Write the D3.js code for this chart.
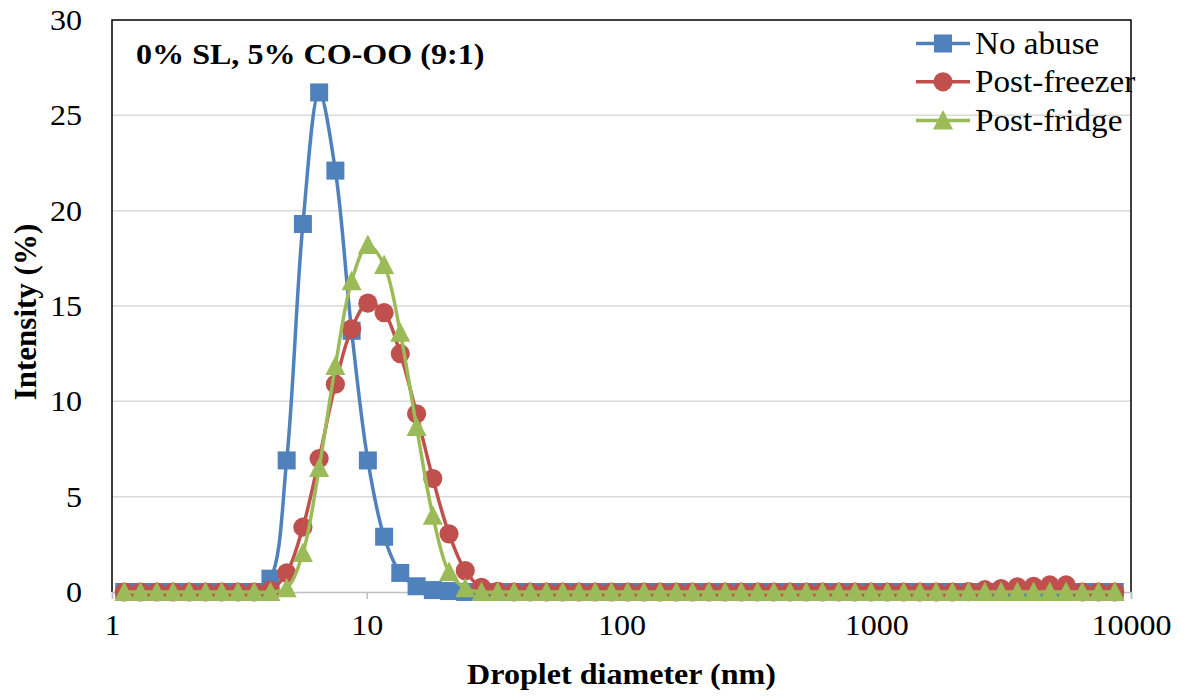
<!DOCTYPE html>
<html>
<head>
<meta charset="utf-8">
<script src="https://cdn.jsdelivr.net/npm/d3@7"></script>
<style>
  html, body { margin: 0; padding: 0; background: #fff; }
  svg { display: block; font-family: "Liberation Serif", "Times New Roman", serif; }
</style>
</head>
<body>
<svg id="chart" width="1186" height="696"></svg>
<script>
// droplet diameter bins (nm)
const diameters = [1.117, 1.294, 1.499, 1.736, 2.010, 2.328, 2.696, 3.122, 3.615, 4.187,
  4.849, 5.615, 6.503, 7.531, 8.721, 10.10, 11.70, 13.54, 15.69, 18.17,
  21.04, 24.36, 28.21, 32.67, 37.84, 43.82, 50.75, 58.77, 68.06, 78.82,
  91.28, 105.7, 122.4, 141.8, 164.2, 190.1, 220.2, 255.0, 295.3, 342.0,
  396.1, 458.7, 531.2, 615.1, 712.4, 825.0, 955.4, 1106, 1281, 1484,
  1718, 1990, 2305, 2669, 3091, 3580, 4145, 4801, 5560, 6439,
  7456, 8635];

const noAbuse = [0, 0, 0, 0, 0, 0, 0, 0, 0, 0.7,
  6.9, 19.3, 26.2, 22.1, 13.7, 6.9, 2.9, 1.0, 0.3, 0.1,
  0.05, 0, 0, 0, 0, 0, 0, 0, 0, 0,
  0, 0, 0, 0, 0, 0, 0, 0, 0, 0,
  0, 0, 0, 0, 0, 0, 0, 0, 0, 0,
  0, 0, 0, 0, 0, 0, 0, 0, 0, 0,
  0, 0];

const postFreezer = [0, 0, 0, 0, 0, 0, 0, 0, 0, 0.1,
  1.0, 3.4, 7.0, 10.9, 13.8, 15.15, 14.65, 12.5, 9.35, 5.95,
  3.05, 1.12, 0.25, 0.03, 0, 0, 0, 0, 0, 0,
  0, 0, 0, 0, 0, 0, 0, 0, 0, 0,
  0, 0, 0, 0, 0, 0, 0, 0, 0, 0,
  0, 0, 0.02, 0.12, 0.18, 0.27, 0.3, 0.37, 0.37, 0,
  0, 0];

const postFridge = [0, 0, 0, 0, 0, 0, 0, 0, 0, 0,
  0.2, 2.05, 6.5, 11.85, 16.3, 18.2, 17.15, 13.6, 8.65, 4.0,
  1.05, 0.2, 0, 0, 0, 0, 0, 0, 0, 0,
  0, 0, 0, 0, 0, 0, 0, 0, 0, 0,
  0, 0, 0, 0, 0, 0, 0, 0, 0, 0,
  0, 0, 0, 0, 0, 0, 0, 0, 0, 0,
  0, 0];

const seriesNames = ['No abuse', 'Post-freezer', 'Post-fridge'];
const seriesColors = ['#4F81BD', '#C0504D', '#9BBB59'];
const seriesShapes = ['square', 'circle', 'triangle'];
const xTicks = [1, 10, 100, 1000, 10000];
const yTicks = [0, 5, 10, 15, 20, 25, 30];

const svg = d3.select('#chart');
const plotL = 112, plotR = 1131, plotT = 20, plotB = 592;
const stretch = 'scale(1.07,1)'; // text in the reference is a little wide

const x = d3.scaleLog().domain([1, 10000]).range([plotL, plotR]);
const y = d3.scaleLinear().domain([0, 30]).range([plotB, plotT]);

// gridlines
svg.append('g')
  .selectAll('line')
  .data(yTicks.filter(t => t > 0 && t < 30))
  .join('line')
  .attr('x1', plotL).attr('x2', plotR)
  .attr('y1', d => y(d)).attr('y2', d => y(d))
  .attr('stroke', '#D9D9D9').attr('stroke-width', 1.5);

// plot border (top, left, right)
svg.append('path')
  .attr('d', `M${plotL},${plotB}V${plotT}H${plotR}V${plotB}`)
  .attr('fill', 'none').attr('stroke', '#000').attr('stroke-width', 1.5);

// x axis
const xAxis = svg.append('g')
  .attr('transform', `translate(0,${plotB})`)
  .call(d3.axisBottom(x).tickValues(xTicks).tickFormat(d3.format('d')).tickSize(7).tickPadding(15));
xAxis.select('.domain').attr('stroke', '#BFBFBF').attr('stroke-width', 1.5);
xAxis.selectAll('.tick line').attr('stroke', '#BFBFBF').attr('stroke-width', 1.5);
xAxis.selectAll('.tick text')
  .attr('font-family', '"Liberation Serif", serif')
  .attr('font-size', 30).attr('fill', '#000')
  .attr('transform', stretch);

// y axis labels
const yAxis = svg.append('g')
  .attr('transform', `translate(${plotL},0)`)
  .call(d3.axisLeft(y).tickValues(yTicks).tickSize(0).tickPadding(28));
yAxis.select('.domain').remove();
yAxis.selectAll('.tick text')
  .attr('font-family', '"Liberation Serif", serif')
  .attr('font-size', 30).attr('fill', '#000')
  .attr('transform', stretch);

// axis titles
svg.append('text')
  .attr('transform', `translate(${(plotL + plotR) / 2},684) ${stretch}`)
  .attr('text-anchor', 'middle')
  .attr('font-size', 30).attr('font-weight', 'bold')
  .text('Droplet diameter (nm)');

svg.append('text')
  .attr('transform', `translate(36,${(plotT + plotB) / 2 + 6}) rotate(-90)`)
  .attr('text-anchor', 'middle')
  .attr('font-size', 31).attr('font-weight', 'bold')
  .text('Intensity (%)');

// chart title
svg.append('text')
  .attr('transform', `translate(136,64) ${stretch}`)
  .attr('font-size', 30).attr('font-weight', 'bold')
  .text('0% SL, 5% CO-OO (9:1)');

function drawMarker(g, shape, color, cx, cy) {
  if (shape === 'square') {
    g.append('rect')
      .attr('x', cx - 9).attr('y', cy - 9)
      .attr('width', 18).attr('height', 18)
      .attr('fill', color);
  } else if (shape === 'circle') {
    g.append('circle')
      .attr('cx', cx).attr('cy', cy).attr('r', 9.6)
      .attr('fill', color);
  } else {
    g.append('path')
      .attr('d', `M${cx},${cy - 10.5}L${cx + 10},${cy + 9}L${cx - 10},${cy + 9}Z`)
      .attr('fill', color);
  }
}

const allValues = [noAbuse, postFreezer, postFridge];
const line = d3.line()
  .x(d => x(d[0]))
  .y(d => y(d[1]))
  .curve(d3.curveCatmullRom.alpha(0.5));

allValues.forEach((vals, i) => {
  const pts = diameters.map((d, j) => [d, vals[j]]);
  const g = svg.append('g');
  g.append('path')
    .attr('d', line(pts))
    .attr('fill', 'none')
    .attr('stroke', seriesColors[i])
    .attr('stroke-width', 3.5);
  pts.forEach(p => drawMarker(g, seriesShapes[i], seriesColors[i], x(p[0]), y(p[1])));
});

// legend
const legendY = [43.5, 81.8, 120.5];
seriesNames.forEach((name, i) => {
  const g = svg.append('g');
  g.append('line')
    .attr('x1', 916).attr('x2', 970)
    .attr('y1', legendY[i]).attr('y2', legendY[i])
    .attr('stroke', seriesColors[i]).attr('stroke-width', 3.5);
  drawMarker(g, seriesShapes[i], seriesColors[i], 943, legendY[i]);
  g.append('text')
    .attr('transform', `translate(975,${legendY[i] + 10}) ${stretch}`)
    .attr('font-size', 31)
    .text(name);
});
</script>
</body>
</html>
